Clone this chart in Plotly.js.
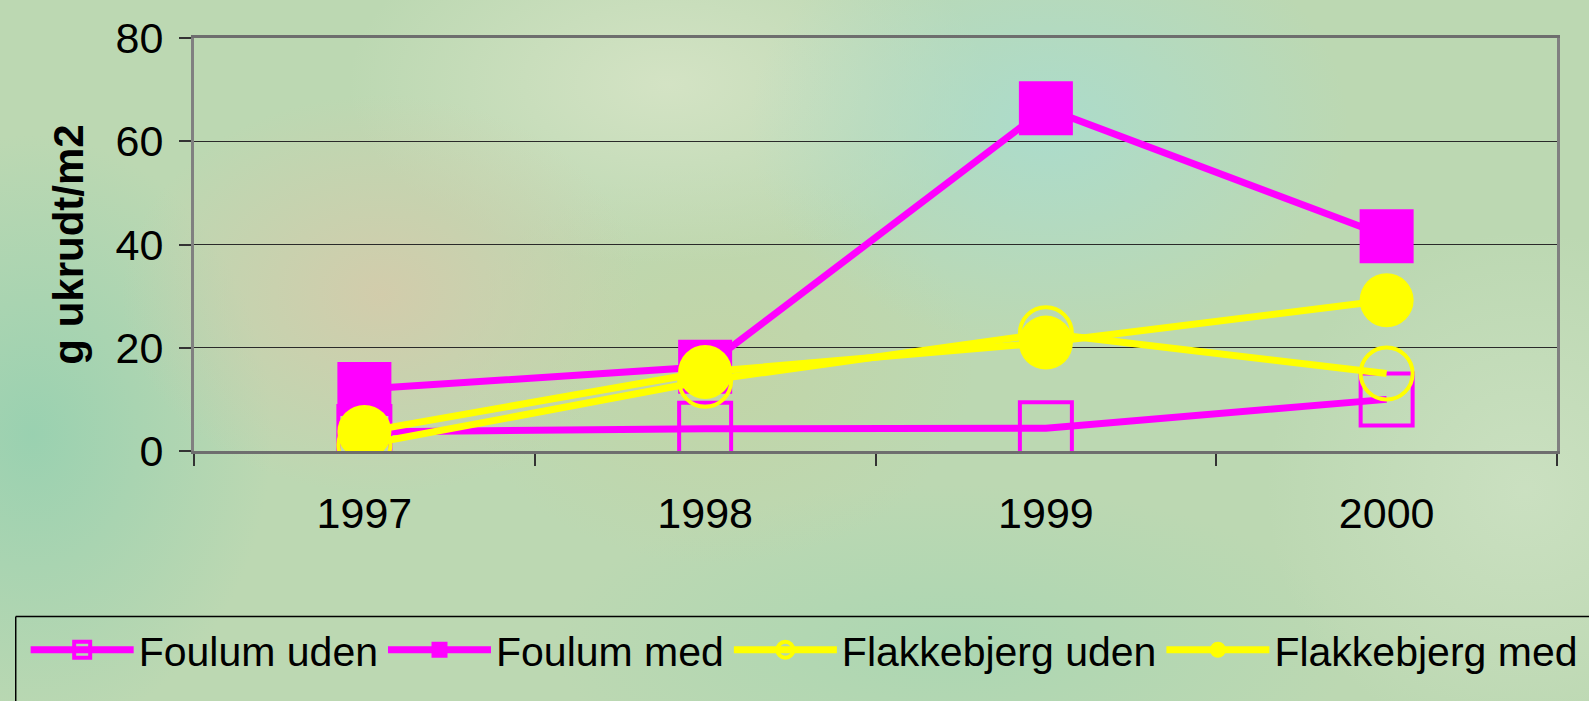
<!DOCTYPE html>
<html>
<head>
<meta charset="utf-8">
<script src="https://cdn.plot.ly/plotly-3.0.1.min.js"></script>
<style>
  html, body { margin: 0; padding: 0; }
  body {
    width: 1589px; height: 701px; overflow: hidden;
    background-color: #bcd8b2;
    background-image:
      radial-gradient(ellipse 260px 200px at 24% 42%, rgba(214,202,170,0.85), rgba(214,202,170,0) 100%),
      radial-gradient(ellipse 300px 220px at 66% 18%, rgba(170,220,206,0.9), rgba(170,220,206,0) 100%),
      radial-gradient(ellipse 240px 300px at 2% 62%, rgba(150,208,176,0.9), rgba(150,208,176,0) 100%),
      radial-gradient(ellipse 320px 180px at 42% 12%, rgba(214,228,198,0.9), rgba(214,228,198,0) 100%),
      radial-gradient(ellipse 260px 200px at 45% 52%, rgba(196,212,164,0.8), rgba(196,212,164,0) 100%),
      radial-gradient(ellipse 260px 260px at 96% 70%, rgba(206,226,196,0.8), rgba(206,226,196,0) 100%),
      radial-gradient(ellipse 400px 160px at 60% 92%, rgba(168,214,178,0.8), rgba(168,214,178,0) 100%);
  }
  #chart { width: 1589px; height: 701px; }
</style>
</head>
<body>
<div id="chart"></div>
<script>
// ---- data ----
const years = ['1997', '1998', '1999', '2000'];
const foulumUden = [3.7, 4.3, 4.4, 10.0];
const foulumMed = [12.0, 16.3, 66.4, 41.6];
const flakkebjergUden = [1.2, 13.6, 22.8, 15.0];
const flakkebjergMed = [3.7, 15.3, 21.0, 29.2];
const seriesNames = ['Foulum uden', 'Foulum med', 'Flakkebjerg uden', 'Flakkebjerg med'];
const yTicks = [0, 20, 40, 60, 80];

const MAGENTA = '#FF00FF';
const YELLOW = '#FFFF00';
const sans = '"Liberation Sans", Arial, sans-serif';

function hollowStyle(color, symbol) {
  return { symbol: symbol, size: 52, color: color, line: { color: color, width: 4 } };
}
function filledStyle(color, symbol) {
  return { symbol: symbol, size: 54, color: color, line: { color: color, width: 0 } };
}

const traces = [
  { x: years, y: foulumUden, name: seriesNames[0], mode: 'lines+markers', type: 'scatter',
    line: { color: MAGENTA, width: 7 }, marker: hollowStyle(MAGENTA, 'square-open') },
  { x: years, y: foulumMed, name: seriesNames[1], mode: 'lines+markers', type: 'scatter',
    line: { color: MAGENTA, width: 7 }, marker: filledStyle(MAGENTA, 'square') },
  { x: years, y: flakkebjergUden, name: seriesNames[2], mode: 'lines+markers', type: 'scatter',
    line: { color: YELLOW, width: 7 }, marker: hollowStyle(YELLOW, 'circle-open') },
  { x: years, y: flakkebjergMed, name: seriesNames[3], mode: 'lines+markers', type: 'scatter',
    line: { color: YELLOW, width: 7 }, marker: filledStyle(YELLOW, 'circle') }
];

const layout = {
  width: 1589, height: 701,
  paper_bgcolor: 'rgba(0,0,0,0)',
  plot_bgcolor: 'rgba(0,0,0,0)',
  margin: { l: 194, r: 32, t: 38, b: 250, autoexpand: false },
  showlegend: true,
  hovermode: false,
  font: { family: sans, color: '#000000' },
  xaxis: {
    type: 'category',
    range: [-0.5, 3.5],
    showgrid: false,
    zeroline: false,
    showline: true, linecolor: '#6e6e6e', linewidth: 3, mirror: true,
    ticks: 'outside', ticklen: 12, tickwidth: 2, tickcolor: '#333333',
    tickson: 'boundaries',
    ticklabelstandoff: 22,
    tickfont: { family: sans, size: 43, color: '#000000' }
  },
  yaxis: {
    range: [0, 80],
    tickvals: yTicks,
    ticktext: yTicks.map(String),
    showgrid: true, gridcolor: '#2a2a2a', gridwidth: 1.3,
    zeroline: false,
    showline: true, linecolor: '#808080', linewidth: 3, mirror: true,
    ticks: 'outside', ticklen: 12, tickwidth: 2, tickcolor: '#333333',
    ticklabelstandoff: 7,
    tickfont: { family: sans, size: 43, color: '#000000' },
    title: { text: 'g ukrudt/m2', standoff: 19,
             font: { family: sans, size: 42, weight: 'bold', color: '#000000' } }
  },
  legend: {
    orientation: 'h',
    xref: 'paper', yref: 'paper',
    x: -0.1235, xanchor: 'left',
    y: -0.4009, yanchor: 'top',
    bgcolor: 'rgba(0,0,0,0)',
    borderwidth: 0,
    itemwidth: 103,
    font: { family: sans, size: 41, color: '#000000' }
  },
  // legend frame: its right and bottom sides run past the picture's edges, as in the original
  shapes: [
    { type: 'line', xref: 'paper', yref: 'paper', x0: -0.1308, x1: 1.05, y0: -0.4009, y1: -0.4009,
      line: { color: '#000000', width: 1.5 } },
    { type: 'line', xref: 'paper', yref: 'paper', x0: -0.1308, x1: -0.1308, y0: -0.4009, y1: -0.65,
      line: { color: '#000000', width: 1.5 } }
  ]
};

Plotly.newPlot('chart', traces, layout, { displayModeBar: false, staticPlot: true });
</script>
</body>
</html>
